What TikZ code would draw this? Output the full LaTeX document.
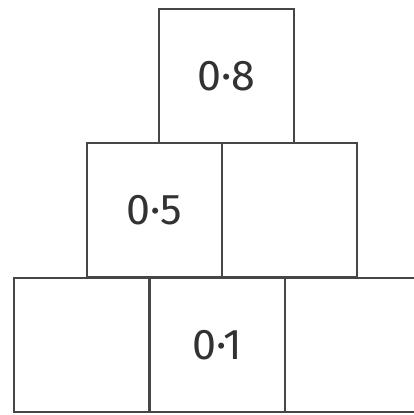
\documentclass[tikz,border=0pt]{standalone}
\usepackage{fontspec}
\setmainfont{Fira Sans}
\usepackage{xcolor}
\usepackage{tikz}
\usetikzlibrary{positioning}
\definecolor{boxline}{RGB}{70,70,70}
\definecolor{numtext}{RGB}{50,50,50}

\begin{document}
\begin{tikzpicture}[x=1pt,y=-1pt,
    brick/.style={draw=boxline,line width=2pt,minimum width=135pt,minimum height=134pt,
      inner sep=0pt,outer sep=0pt,text=numtext,font=\fontsize{43}{43}\selectfont}]
  \useasboundingbox (0,0) rectangle (413,415);
  % bottom row
  \node[brick] (b1) at (81.5,345) {};
  \node[brick] (b2) at (217.5,345) {0·1};
  \node[brick] (b3) at (352.5,345) {};
  % middle row
  \node[brick] (m1) at (154,210) {0·5};
  \node[brick] (m2) at (289,210) {};
  % top
  \node[brick] (t1) at (226.5,76) {0·8};
\end{tikzpicture}
\end{document}
